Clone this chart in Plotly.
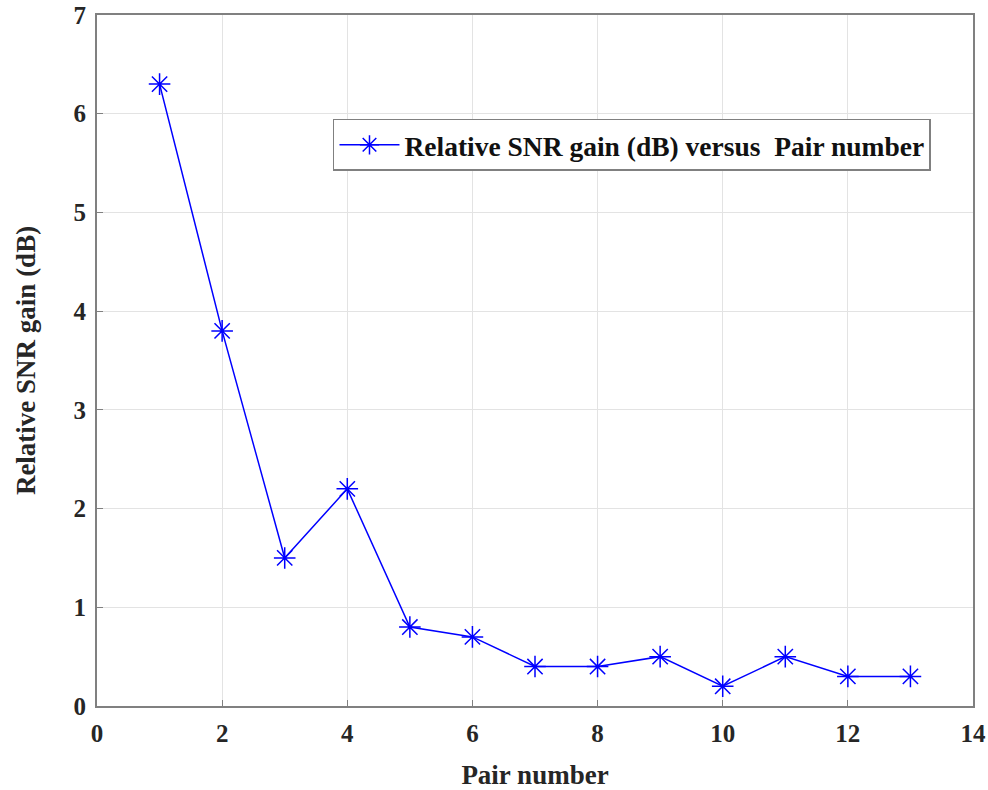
import plotly.graph_objects as go

pair_number = [1, 2, 3, 4, 5, 6, 7, 8, 9, 10, 11, 12, 13]
snr_gain = [6.3, 3.8, 1.5, 2.2, 0.8, 0.7, 0.4, 0.4, 0.5, 0.2, 0.5, 0.3, 0.3]
x_ticks = [0, 2, 4, 6, 8, 10, 12, 14]
y_ticks = [0, 1, 2, 3, 4, 5, 6, 7]

fam = "Liberation Serif, Times New Roman, serif"
title_font = dict(family=fam, size=27, color="#262626")

fig = go.Figure()
fig.add_trace(go.Scatter(
    x=pair_number, y=snr_gain, mode="lines+markers",
    name="<b>Relative SNR gain (dB) versus  Pair number</b>",
    line=dict(color="#0000ff", width=1.5),
    marker=dict(symbol="asterisk-open", size=18, color="#0000ff",
                line=dict(color="#0000ff", width=1.5)),
))

axis_common = dict(
    showgrid=True, gridcolor="#e3e3e3", gridwidth=1,
    showline=True, linecolor="#808080", linewidth=2, mirror=True,
    ticks="inside", ticklen=6, tickcolor="#808080", tickwidth=1,
    zeroline=False, automargin=False,
    tickfont=dict(family=fam, size=25, color="#262626"),
)

fig.update_xaxes(range=[0, 14], tickvals=x_ticks, ticktext=[f"<b>{t}</b>" for t in x_ticks],
                 ticklabelstandoff=4,
                 title=dict(text="<b>Pair number</b>", font=title_font, standoff=20), **axis_common)
fig.update_yaxes(range=[0, 7], tickvals=y_ticks, ticktext=[f"<b>{t}</b>" for t in y_ticks],
                 ticklabelstandoff=4,
                 title=dict(text="<b>Relative SNR gain (dB)</b>", font=title_font, standoff=30), **axis_common)

fig.update_layout(
    width=988, height=790,
    margin=dict(l=97, r=15, t=15, b=84),
    plot_bgcolor="white", paper_bgcolor="white",
    showlegend=True,
    legend=dict(x=0.2694, y=0.812, xanchor="left", yanchor="middle",
                bgcolor="white", bordercolor="#808080", borderwidth=1.5,
                font=dict(family=fam, size=27.5, color="#111111"),
                itemwidth=60),
)

fig.write_html("out.html", config={"displayModeBar": False},
               post_script="document.body.style.margin='0';document.body.style.overflow='hidden';")
